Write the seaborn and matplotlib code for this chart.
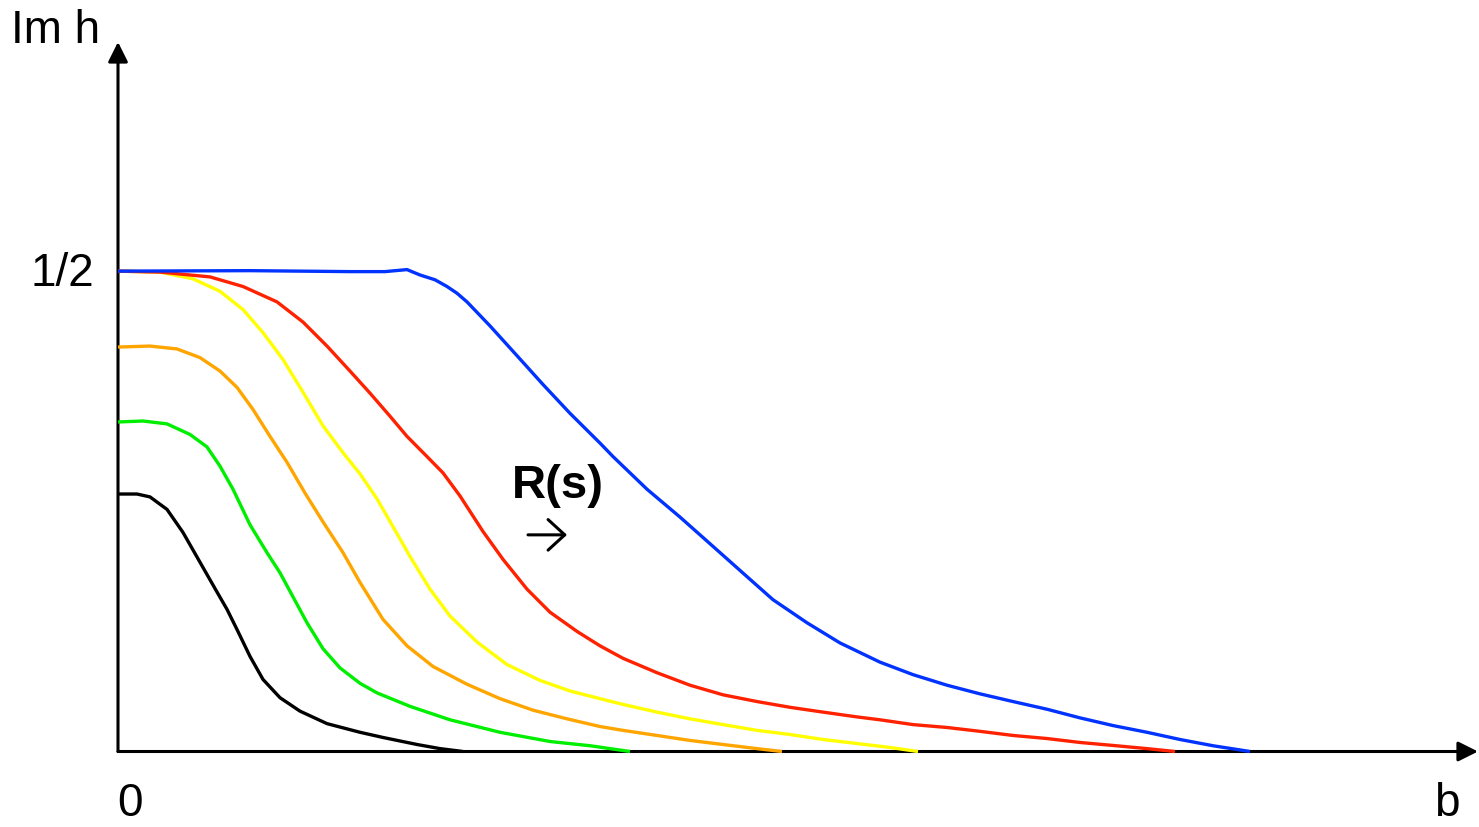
import numpy as np
import pandas as pd
import matplotlib
matplotlib.use("Agg")
import matplotlib.pyplot as plt
import seaborn as sns

# ---- data ----
black_b = [0.00, 0.19, 0.32, 0.49, 0.65, 0.82, 0.99, 1.09, 1.19, 1.32, 1.45, 1.62, 1.82, 2.09, 2.42, 2.65, 2.99, 3.22, 3.45]
black_h = [0.268, 0.268, 0.265, 0.252, 0.228, 0.197, 0.166, 0.148, 0.127, 0.099, 0.075, 0.056, 0.042, 0.029, 0.020, 0.0146, 0.0073, 0.003, 0.0]

green_b = [0.00, 0.25, 0.49, 0.72, 0.89, 1.02, 1.15, 1.32, 1.49, 1.62, 1.75, 1.89, 2.05, 2.22, 2.42, 2.59, 2.92, 3.32, 3.82, 4.32, 4.72, 5.12]
green_h = [0.343, 0.344, 0.341, 0.330, 0.317, 0.297, 0.273, 0.236, 0.207, 0.186, 0.161, 0.134, 0.107, 0.087, 0.071, 0.061, 0.047, 0.033, 0.020, 0.0104, 0.006, 0.0]

orange_b = [0.00, 0.32, 0.59, 0.82, 1.02, 1.19, 1.35, 1.52, 1.69, 1.87, 2.05, 2.25, 2.42, 2.65, 2.89, 3.15, 3.49, 3.82,
            4.15, 4.49, 4.82, 5.05, 5.39, 5.72, 6.05, 6.39, 6.64]
orange_h = [0.421, 0.422, 0.419, 0.410, 0.396, 0.379, 0.356, 0.328, 0.301, 0.269, 0.239, 0.207, 0.176, 0.1375, 0.110, 0.0885, 0.070, 0.055,
            0.043, 0.034, 0.026, 0.022, 0.0167, 0.0115, 0.0073, 0.003, 0.0]

yellow_b = [0.00, 0.42, 0.75, 1.02, 1.25, 1.45, 1.65, 1.85, 2.05, 2.25, 2.42, 2.59, 2.75, 2.92, 3.12, 3.32, 3.59, 3.89,
            4.22, 4.52, 4.82, 5.05, 5.39, 5.72, 6.05, 6.39, 6.72, 7.05, 7.39, 7.72, 8.00]
yellow_h = [0.500, 0.499, 0.492, 0.479, 0.460, 0.436, 0.408, 0.374, 0.339, 0.311, 0.289, 0.263, 0.234, 0.203, 0.169, 0.141, 0.114, 0.0905,
            0.074, 0.063, 0.055, 0.049, 0.041, 0.034, 0.028, 0.022, 0.0177, 0.0125, 0.0083, 0.0042, 0.0]

red_b = [0.00, 0.42, 0.92, 1.25, 1.59, 1.85, 2.09, 2.32, 2.52, 2.72, 2.89, 3.09, 3.25, 3.42, 3.65, 3.85, 4.09, 4.32, 4.59,
         4.82, 5.05, 5.39, 5.72, 6.05, 6.39, 6.72, 7.05, 7.39, 7.62, 7.95, 8.29, 8.62, 8.95, 9.29, 9.62, 9.95, 10.29, 10.57]
red_h = [0.500, 0.499, 0.494, 0.484, 0.468, 0.447, 0.422, 0.396, 0.373, 0.349, 0.328, 0.307, 0.290, 0.266, 0.229, 0.200, 0.169, 0.145, 0.125,
         0.110, 0.097, 0.082, 0.069, 0.059, 0.052, 0.046, 0.041, 0.036, 0.033, 0.028, 0.025, 0.021, 0.0167, 0.0135, 0.0094, 0.0063, 0.003, 0.0]

blue_b = [0.00, 1.32, 2.32, 2.67, 2.89, 3.02, 3.17, 3.29, 3.39, 3.49, 3.72, 3.99, 4.25, 4.52, 4.82, 4.95, 5.29, 5.62, 5.95,
          6.29, 6.55, 6.89, 7.22, 7.62, 7.95, 8.29, 8.62, 8.95, 9.29, 9.62, 9.95, 10.29, 10.62, 10.95, 11.32]
blue_h = [0.500, 0.5005, 0.4995, 0.4995, 0.5016, 0.496, 0.491, 0.484, 0.477, 0.468, 0.443, 0.412, 0.382, 0.352, 0.321, 0.307, 0.273, 0.244, 0.2135,
          0.182, 0.158, 0.134, 0.113, 0.093, 0.080, 0.069, 0.060, 0.052, 0.044, 0.035, 0.027, 0.020, 0.0125, 0.006, 0.0]

curve_names = ["black", "green", "orange", "yellow", "red", "blue"]
curve_colors = ["#000000", "#00EE00", "#FFA500", "#FFFF00", "#FF2200", "#0033FF"]

x_max = 13.6
y_max = 0.7385

# ---- build long-form table ----
frames = []
for name, bs, hs in [("black", black_b, black_h), ("green", green_b, green_h),
                     ("orange", orange_b, orange_h), ("yellow", yellow_b, yellow_h),
                     ("red", red_b, red_h), ("blue", blue_b, blue_h)]:
    frames.append(pd.DataFrame({"b": bs, "h": hs, "curve": name}))
df = pd.concat(frames, ignore_index=True)

sns.set_style("white")
plt.rcParams["font.family"] = ["Liberation Sans", "DejaVu Sans"]
plt.rcParams["text.color"] = "black"

fig = plt.figure(figsize=(14.79, 8.28), dpi=100)
W, H = 1479, 828
ax = fig.add_axes([118 / W, (H - 752.5) / H, (1478 - 118) / W, (752.5 - 43) / H])

sns.lineplot(data=df, x="b", y="h", hue="curve", hue_order=curve_names,
             palette=dict(zip(curve_names, curve_colors)), sort=False,
             estimator=None, legend=False, linewidth=2.4, ax=ax)
for ln in ax.lines:
    ln.set_clip_on(False)
    ln.set_solid_capstyle("butt")
    ln.set_solid_joinstyle("round")

ax.set_xlim(0, x_max)
ax.set_ylim(0, y_max)
for s in ax.spines.values():
    s.set_visible(False)
ax.set_xticks([])
ax.set_yticks([])
ax.set_xlabel("")
ax.set_ylabel("")
ax.patch.set_alpha(0)

arrow_kw = dict(arrowstyle="-|>,head_length=0.6,head_width=0.3", lw=2.2, color="black",
                mutation_scale=20, shrinkA=0, shrinkB=0)
ax.annotate("", xy=(x_max, 0), xytext=(0, 0), arrowprops=arrow_kw, annotation_clip=False, zorder=1)
ax.annotate("", xy=(0, y_max), xytext=(0, 0), arrowprops=arrow_kw, annotation_clip=False, zorder=1)

fs = 33
ax.text(-1.07, 0.7385, "Im h", fontsize=fs, ha="left", va="baseline", clip_on=False, color="black")
ax.text(-0.24, 0.486, "1/2", fontsize=fs, ha="right", va="baseline", clip_on=False, color="black")
ax.text(0.12, -0.0656, "0", fontsize=fs, ha="center", va="baseline", clip_on=False, color="black")
ax.text(13.29, -0.0656, "b", fontsize=fs, ha="center", va="baseline", clip_on=False, color="black")
ax.text(4.395, 0.2646, "R(s)", fontsize=34, fontweight="bold", ha="center", va="baseline",
        clip_on=False, color="black")
ax.annotate("", xy=(4.49, 0.2255), xytext=(4.10, 0.2255),
            arrowprops=dict(arrowstyle="->,head_length=0.6,head_width=0.55", lw=2.2, color="black",
                            mutation_scale=20, shrinkA=0, shrinkB=0),
            annotation_clip=False)

fig.savefig("out.png", dpi=100)
